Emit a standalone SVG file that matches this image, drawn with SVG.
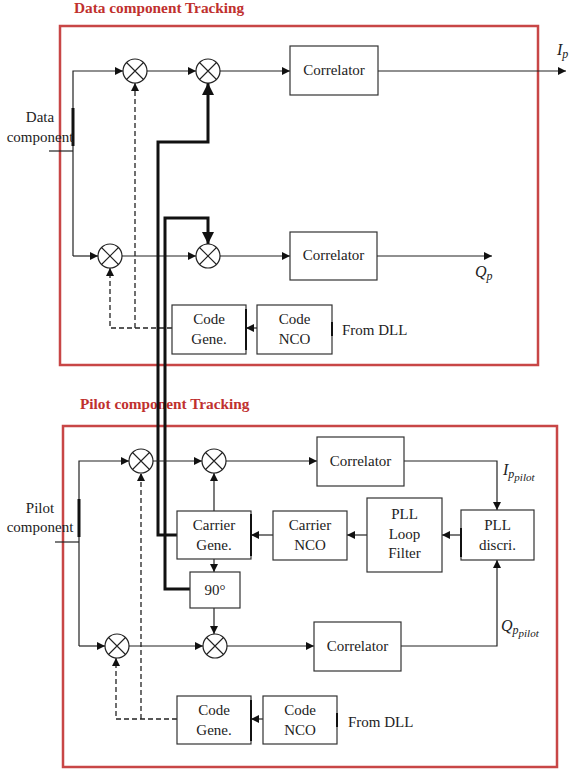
<svg xmlns="http://www.w3.org/2000/svg" width="569" height="771" viewBox="0 0 569 771">
<style>
.frame{fill:none;stroke:#c84646;stroke-width:2.5}
.title{font-family:"Liberation Serif",serif;font-weight:bold;font-size:15.3px;fill:#c0302e}
.box{fill:#fff;stroke:#333;stroke-width:1.2}
.t{font-family:"Liberation Serif",serif;font-size:15px;fill:#222;text-anchor:middle}
.tl{font-family:"Liberation Serif",serif;font-size:15px;fill:#222}
.m{font-family:"Liberation Serif",serif;font-style:italic;fill:#222}
.ln{fill:none;stroke:#222;stroke-width:1.2}
.dash{fill:none;stroke:#222;stroke-width:1.3;stroke-dasharray:5 3}
.thick{fill:none;stroke:#111;stroke-width:3}
.bar{stroke:#111;stroke-width:3}
</style>
<defs>
<marker id="ah" viewBox="0 0 10 10" refX="10" refY="5" markerWidth="8" markerHeight="8" markerUnits="userSpaceOnUse" orient="auto">
<path d="M0,0 L10,5 L0,10 z" fill="#111"/>
</marker>
<marker id="ahb" viewBox="0 0 10 10" refX="10" refY="5" markerWidth="4" markerHeight="4" markerUnits="strokeWidth" orient="auto">
<path d="M0,0 L10,5 L0,10 z" fill="#111"/>
</marker>
<g id="mulshape"><circle r="12" fill="#fff" stroke="#222" stroke-width="1.2"/><path d="M-8.5,-8.5 L8.5,8.5 M-8.5,8.5 L8.5,-8.5" fill="none" stroke="#222" stroke-width="1.1"/></g>
</defs>

<!-- frames & titles -->
<g id="data-frame">
<rect class="frame" x="60" y="26" width="478" height="339"/>
<text class="title" x="74" y="13">Data component Tracking</text>
</g>
<g id="pilot-frame">
<rect class="frame" x="63" y="426" width="494" height="341"/>
<text class="title" x="80" y="409">Pilot component Tracking</text>
</g>

<!-- connectors -->
<g id="connectors">
<!-- data section -->
<path class="ln" d="M49,151 H73"/>
<path class="ln" d="M73,256 V71 H123" marker-end="url(#ah)"/>
<path class="ln" d="M73,256 H98" marker-end="url(#ah)"/>
<line class="bar" x1="73" y1="108" x2="73" y2="146"/>
<path class="ln" d="M147,71 H196" marker-end="url(#ah)"/>
<path class="ln" d="M220,71 H290" marker-end="url(#ah)"/>
<path class="ln" d="M378,71 H566" marker-end="url(#ah)"/>
<path class="ln" d="M122,256 H196" marker-end="url(#ah)"/>
<path class="ln" d="M220,256 H290" marker-end="url(#ah)"/>
<path class="ln" d="M377,256 H492" marker-end="url(#ah)"/>
<path class="dash" d="M172,328 H110 V268" marker-end="url(#ah)"/>
<path class="dash" d="M135,328 V83" marker-end="url(#ah)"/>
<path class="ln" d="M257,328 H246" marker-end="url(#ah)"/>
<!-- carrier lines (thick) -->
<path class="thick" d="M178,535 H158 V142 H208 V83" marker-end="url(#ahb)"/>
<path class="thick" d="M190,589 H165 V218 H208 V244" marker-end="url(#ahb)"/>
<!-- pilot section -->
<path class="ln" d="M55,542 H79"/>
<path class="ln" d="M79,646 V461 H129" marker-end="url(#ah)"/>
<path class="ln" d="M79,646 H105" marker-end="url(#ah)"/>
<line class="bar" x1="79" y1="499" x2="79" y2="537"/>
<path class="ln" d="M153,461 H202" marker-end="url(#ah)"/>
<path class="ln" d="M226,461 H317" marker-end="url(#ah)"/>
<path class="ln" d="M404,461 H497 V510" marker-end="url(#ah)"/>
<path class="ln" d="M461,535 H442" marker-end="url(#ah)"/>
<path class="ln" d="M367,535 H347" marker-end="url(#ah)"/>
<path class="ln" d="M273,535 H251" marker-end="url(#ah)"/>
<path class="ln" d="M214,511 V473" marker-end="url(#ah)"/>
<path class="ln" d="M214,559 V572" marker-end="url(#ah)"/>
<path class="ln" d="M214,608 V634" marker-end="url(#ah)"/>
<path class="ln" d="M129,646 H203" marker-end="url(#ah)"/>
<path class="ln" d="M227,646 H314" marker-end="url(#ah)"/>
<path class="ln" d="M401,646 H497 V560" marker-end="url(#ah)"/>
<path class="dash" d="M177,719 H116 V658" marker-end="url(#ah)"/>
<path class="dash" d="M141,719 V473" marker-end="url(#ah)"/>
<path class="ln" d="M263,719 H251" marker-end="url(#ah)"/>
</g>

<!-- data section nodes -->
<g id="data-input">
<text class="t" x="40" y="122">Data</text>
<text class="t" x="40" y="142">component</text>
</g>
<g id="mul-d1"><use href="#mulshape" x="135" y="71"/></g>
<g id="mul-d2"><use href="#mulshape" x="208" y="71"/></g>
<g id="mul-d3"><use href="#mulshape" x="110" y="256"/></g>
<g id="mul-d4"><use href="#mulshape" x="208" y="256"/></g>
<g id="corr-d1"><rect class="box" x="290" y="46" width="88" height="49"/><text class="t" x="334" y="75">Correlator</text></g>
<g id="corr-d2"><rect class="box" x="290" y="232" width="87" height="48"/><text class="t" x="333.5" y="260">Correlator</text></g>
<g id="codegen-d"><rect class="box" x="172" y="305" width="74" height="49"/><line class="bar" x1="246" y1="309" x2="246" y2="350" style="stroke-width:2"/><text class="t" x="209" y="324">Code</text><text class="t" x="209" y="344">Gene.</text></g>
<g id="codenco-d"><rect class="box" x="257" y="305" width="75" height="49"/><line class="bar" x1="332" y1="322" x2="332" y2="336" style="stroke-width:2"/><text class="t" x="294.5" y="324">Code</text><text class="t" x="294.5" y="344">NCO</text></g>
<g id="fromdll-d"><text class="tl" x="342" y="335">From DLL</text></g>
<g id="ip-label"><text class="m" x="557" y="55" font-size="16">I<tspan font-size="12" dy="3">p</tspan></text></g>
<g id="qp-label"><text class="m" x="475" y="277" font-size="16">Q<tspan font-size="12" dy="3">p</tspan></text></g>

<!-- pilot section nodes -->
<g id="pilot-input">
<text class="t" x="40" y="513">Pilot</text>
<text class="t" x="40" y="532">component</text>
</g>
<g id="mul-p1"><use href="#mulshape" x="141" y="461"/></g>
<g id="mul-p2"><use href="#mulshape" x="214" y="461"/></g>
<g id="mul-p3"><use href="#mulshape" x="117" y="646"/></g>
<g id="mul-p4"><use href="#mulshape" x="215" y="646"/></g>
<g id="corr-p1"><rect class="box" x="317" y="437" width="87" height="49"/><text class="t" x="360.5" y="466">Correlator</text></g>
<g id="corr-p2"><rect class="box" x="314" y="622" width="87" height="49"/><text class="t" x="357.5" y="651">Correlator</text></g>
<g id="pll-discri"><rect class="box" x="461" y="510" width="73" height="50"/><line class="bar" x1="461" y1="528" x2="461" y2="557" style="stroke-width:2"/><text class="t" x="497.5" y="530">PLL</text><text class="t" x="497.5" y="550">discri.</text></g>
<g id="pll-filter"><rect class="box" x="367" y="498" width="75" height="74"/><text class="t" x="404.5" y="519">PLL</text><text class="t" x="404.5" y="539">Loop</text><text class="t" x="404.5" y="558">Filter</text></g>
<g id="carrier-nco"><rect class="box" x="273" y="511" width="74" height="49"/><text class="t" x="310" y="530">Carrier</text><text class="t" x="310" y="550">NCO</text></g>
<g id="carrier-gen"><rect class="box" x="177" y="511" width="74" height="48"/><line class="bar" x1="251" y1="514" x2="251" y2="556" style="stroke-width:2"/><text class="t" x="214" y="530">Carrier</text><text class="t" x="214" y="550">Gene.</text></g>
<g id="phase90"><rect class="box" x="190" y="572" width="50" height="36"/><text class="t" x="215" y="595">90°</text></g>
<g id="codegen-p"><rect class="box" x="177" y="696" width="74" height="48"/><line class="bar" x1="251" y1="700" x2="251" y2="741" style="stroke-width:2"/><text class="t" x="214" y="715">Code</text><text class="t" x="214" y="735">Gene.</text></g>
<g id="codenco-p"><rect class="box" x="263" y="696" width="74" height="48"/><line class="bar" x1="337" y1="713" x2="337" y2="727" style="stroke-width:2"/><text class="t" x="300" y="715">Code</text><text class="t" x="300" y="735">NCO</text></g>
<g id="fromdll-p"><text class="tl" x="348" y="727">From DLL</text></g>
<g id="ippilot-label"><text class="m" x="503" y="475" font-size="16">I<tspan font-size="12" dy="3">p</tspan><tspan font-size="11" dy="3">pilot</tspan></text></g>
<g id="qppilot-label"><text class="m" x="501" y="631" font-size="16">Q<tspan font-size="12" dy="3">p</tspan><tspan font-size="11" dy="3">pilot</tspan></text></g>
</svg>
